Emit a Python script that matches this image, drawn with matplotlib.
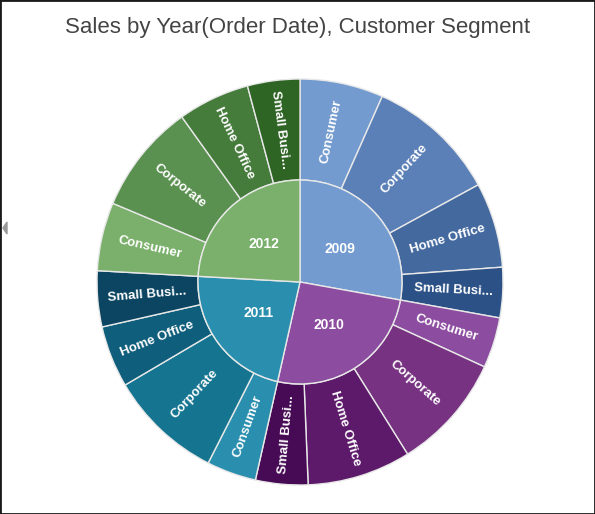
import matplotlib
matplotlib.use("Agg")
import matplotlib.pyplot as plt
import numpy as np
from matplotlib.patches import Rectangle, Polygon

# sales share per year / customer segment
years = ['2009', '2010', '2011', '2012']
segments = ['Consumer', 'Corporate', 'Home Office', 'Small Busi...']
sales_2009 = [23.9, 37.5, 24.4, 14.4]
sales_2010 = [14.5, 33.3, 29.7, 15.0]
sales_2011 = [14.2, 32.6, 17.7, 16.0]
sales_2012 = [19.6, 31.6, 20.6, 15.0]

year_colors = ['#739bcf', '#8c4c9f', '#2a8fae', '#7ab06b']
segment_colors = [
    ['#739bcf', '#5a80b7', '#43699e', '#2b5186'],
    ['#8c4c9f', '#773282', '#5d1a6a', '#470b55'],
    ['#2a8fae', '#157591', '#0f5e7b', '#0b4562'],
    ['#7ab06b', '#5a9150', '#457c3c', '#2e6424'],
]

W, H = 595, 514
cx, cy = 300, H - 282
r_outer, r_inner = 203, 102

fig = plt.figure(figsize=(W / 100, H / 100), dpi=100)
ax = fig.add_axes([0, 0, 1, 1])

all_sales = [sales_2009, sales_2010, sales_2011, sales_2012]
outer_vals = [v for s in all_sales for v in s]
outer_cols = [c for cs in segment_colors for c in cs]
outer_labels = segments * len(years)
year_totals = [sum(s) for s in all_sales]

edge = dict(edgecolor='#e8e8e8', linewidth=1.0)

outer, _ = ax.pie(outer_vals, radius=r_outer, center=(cx, cy), startangle=90,
                  counterclock=False, colors=outer_cols,
                  wedgeprops=dict(width=r_outer - r_inner, **edge))
inner, _ = ax.pie(year_totals, radius=r_inner, center=(cx, cy), startangle=90,
                  counterclock=False, colors=year_colors, wedgeprops=edge)

font = 'Liberation Sans'

for w, lab in zip(outer, outer_labels):
    mid = (w.theta1 + w.theta2) / 2.0
    mid = (mid + 180) % 360 - 180
    rad = np.deg2rad(mid)
    r = (r_outer + r_inner) / 2 + 1
    rot = mid if np.cos(rad) >= 0 else mid + 180
    ax.text(cx + r * np.cos(rad), cy + r * np.sin(rad), lab, rotation=rot,
            rotation_mode='anchor', ha='center', va='center', color='white',
            fontsize=9.5, fontweight='bold', family=font)

for w, lab in zip(inner, years):
    mid = np.deg2rad((w.theta1 + w.theta2) / 2.0)
    r = 52
    ax.text(cx + r * np.cos(mid), cy + r * np.sin(mid), lab, ha='center',
            va='center', color='white', fontsize=10, fontweight='bold',
            family=font)

ax.set_xlim(0, W)
ax.set_ylim(0, H)
ax.set_aspect('equal')
ax.axis('off')

fig.text(0.5, 1 - 28 / H, 'Sales by Year(Order Date), Customer Segment',
         ha='center', va='center', fontsize=16, color='#444444', family=font)

# little collapse handle at the left edge + frame
fig.patches.append(Polygon([[3 / W, 1 - 228 / H], [7 / W, 1 - 222 / H], [7 / W, 1 - 234 / H]],
                           closed=True, transform=fig.transFigure, color='#999999'))
fig.patches.append(Rectangle((0, 0), 1, 1, transform=fig.transFigure, fill=False,
                             edgecolor='#1a1a1a', linewidth=2))

fig.savefig('out.png', dpi=100)
